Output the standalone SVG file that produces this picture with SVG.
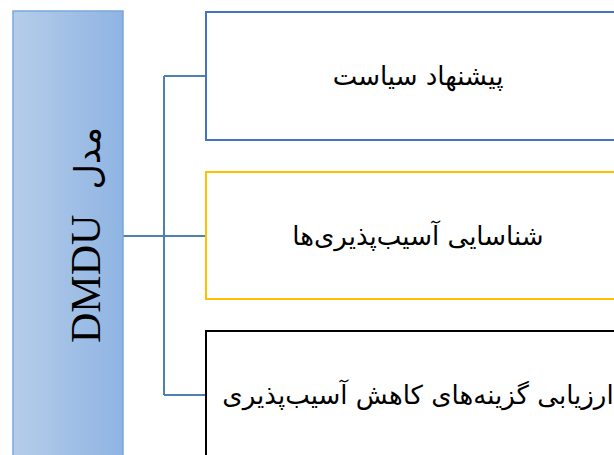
<svg xmlns="http://www.w3.org/2000/svg" width="614" height="455" viewBox="0 0 614 455">
<style>
.box{fill:#ffffff;stroke-width:2}
.lbl{font-family:"DejaVu Sans","Noto Sans",sans-serif;font-size:26px;fill:#000;text-anchor:middle;dominant-baseline:central}
.conn{fill:none;stroke:#4e81b0;stroke-width:2}
</style>
<defs>
<linearGradient id="g" x1="0" y1="0" x2="1" y2="0">
<stop offset="0" stop-color="#b5cdea"/>
<stop offset="1" stop-color="#8fb4e2"/>
</linearGradient>
</defs>
<rect width="614" height="455" fill="#ffffff"/>
<g id="connectors">
<path class="conn" d="M123,236 H164 M164,76 V395 M164,76 H206 M164,236 H206 M164,395 H206"/>
</g>
<g id="node-dmdu">
<rect x="13" y="11" width="110" height="460" fill="url(#g)" stroke="#79a8dc" stroke-width="1.5"/>
<g transform="translate(100,343) rotate(-90)">
<text x="0" y="0" font-family="'Liberation Serif',serif" font-size="42" fill="#000">DMDU</text>
<text x="216" y="0" font-family="'Liberation Serif','DejaVu Sans',serif" font-size="35" fill="#000" text-anchor="end">مدل</text>
</g>
</g>
<g id="node-policy">
<rect class="box" x="206" y="12" width="430" height="128" stroke="#4472c4"/>
<text class="lbl" x="418" y="76">پیشنهاد سیاست</text>
</g>
<g id="node-vuln">
<rect class="box" x="206" y="172" width="430" height="127" stroke="#ffc000"/>
<text class="lbl" x="418" y="236">شناسایی آسیب‌پذیری‌ها</text>
</g>
<g id="node-eval">
<rect class="box" x="206" y="331" width="430" height="140" stroke="#000000"/>
<text class="lbl" x="418" y="395">ارزیابی گزینه‌های کاهش آسیب‌پذیری</text>
</g>
</svg>
